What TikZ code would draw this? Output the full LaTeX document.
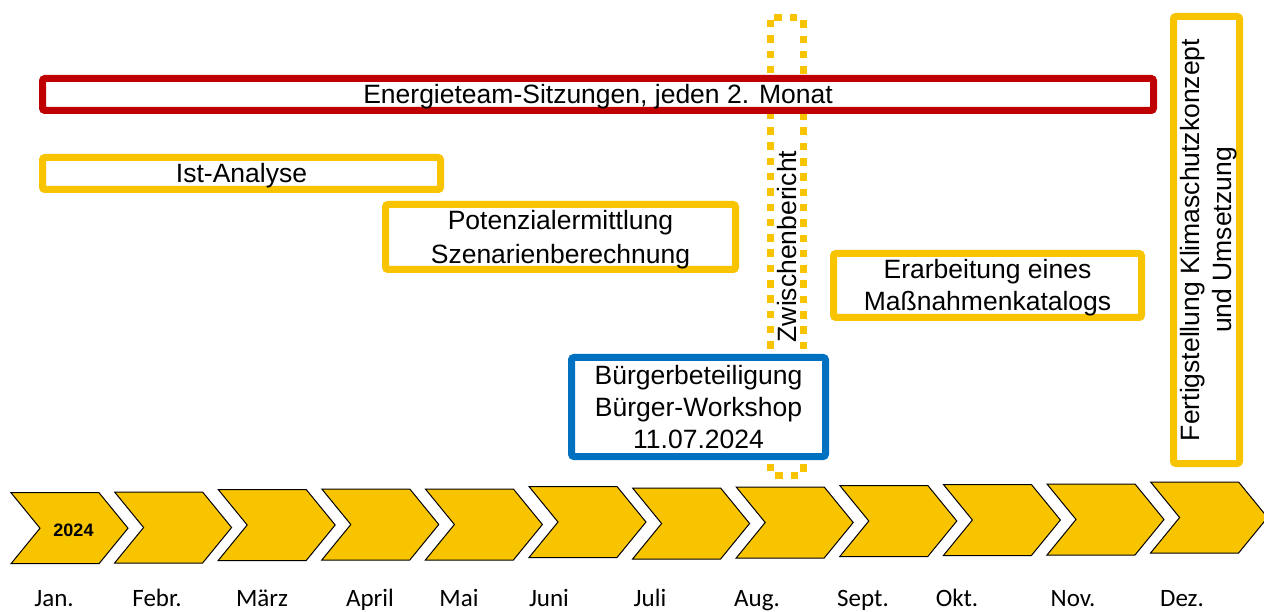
\documentclass[tikz,border=0pt]{standalone}
\usepackage{fontspec}
\setmainfont{Liberation Sans}
\newfontfamily\calfont{Carlito}
\definecolor{tyellow}{HTML}{F8C400}
\definecolor{tred}{HTML}{C00000}
\definecolor{tblue}{HTML}{0070C0}
\begin{document}
\begin{tikzpicture}[x=1pt,y=-1pt,
  boxtext/.style={font=\fontsize{26.5}{32}\selectfont, text height=18.6pt, text depth=0pt, inner sep=0pt, align=center},
  taskbox/.style={boxtext, draw, line width=7pt, rounded corners=2.5pt, fill=white},
  chev/.style={draw=black, line width=1pt, fill=tyellow, line join=miter},
  month/.style={font=\calfont\fontsize{25}{30}\selectfont, anchor=base, inner sep=0pt}]
\useasboundingbox (0,0) rectangle (1264,612);
\fill[white] (0,0) rectangle (1264,612);

% Zwischenbericht (dotted, behind other boxes)
\node[boxtext, draw=tyellow, line width=7pt, dash pattern=on 7.5pt off 7.8pt,
      rounded corners=2pt, rotate=90, minimum width=457pt, minimum height=33pt] (zwischen) at (787,246.5) {Zwischenbericht};

% Energieteam
\node[taskbox, draw=tred, minimum width=1111pt, minimum height=32pt] (energie) at (598,94.5) {Energieteam-Sitzungen, jeden 2. Monat};

% Ist-Analyse
\node[taskbox, draw=tyellow, minimum width=398pt, minimum height=32pt] (ist) at (241.5,173.5) {Ist-Analyse};

% Potenzialermittlung
\node[taskbox, draw=tyellow, minimum width=350pt, minimum height=65pt, font=\fontsize{26.5}{34}\selectfont, text height=52.6pt] (potenzial) at (560.5,237) {Potenzialermittlung\\Szenarienberechnung};

% Erarbeitung
\node[taskbox, draw=tyellow, minimum width=308pt, minimum height=64pt, text height=50.6pt] (erarbeitung) at (987.5,285.5) {Erarbeitung eines\\Maßnahmenkatalogs};

% Buergerbeteiligung
\node[taskbox, draw=tblue, minimum width=254pt, minimum height=99pt, text height=82.6pt] (buerger) at (698.5,407) {Bürgerbeteiligung\\Bürger-Workshop\\11.07.2024};

% Fertigstellung
\node[taskbox, draw=tyellow, rotate=90, minimum width=447pt, minimum height=66pt, text height=50.6pt] (fertig) at (1206.5,240) {Fertigstellung Klimaschutzkonzept\\und Umsetzung};

% Chevrons
\foreach \l/\t [count=\i] in {11/492.7, 114.6/492, 218.2/489.5, 321.8/489, 425.4/489, 529/486.5, 632.6/488, 736.2/487, 839.8/485.5, 943.4/484.5, 1047/484, 1150.6/482}{
  \draw[chev] (\l,\t) -- ++(88,0) -- ++(29,35.5) -- ++(-29,35.5) -- ++(-88,0) -- ++(29,-35.5) -- cycle;
}
\node[font=\bfseries\fontsize{18}{20}\selectfont, inner sep=0pt] (jahr) at (73.5,530) {2024};

% Months
\node[month] (m1) at (54,606) {Jan.};
\node[month] (m2) at (157,606) {Febr.};
\node[month] (m3) at (262,606) {März};
\node[month] (m4) at (370,606) {April};
\node[month] (m5) at (459,606) {Mai};
\node[month] (m6) at (549,606) {Juni};
\node[month] (m7) at (650,606) {Juli};
\node[month] (m8) at (757,606) {Aug.};
\node[month] (m9) at (863,606) {Sept.};
\node[month] (m10) at (957,606) {Okt.};
\node[month] (m11) at (1073,606) {Nov.};
\node[month] (m12) at (1182,606) {Dez.};
\end{tikzpicture}
\end{document}
